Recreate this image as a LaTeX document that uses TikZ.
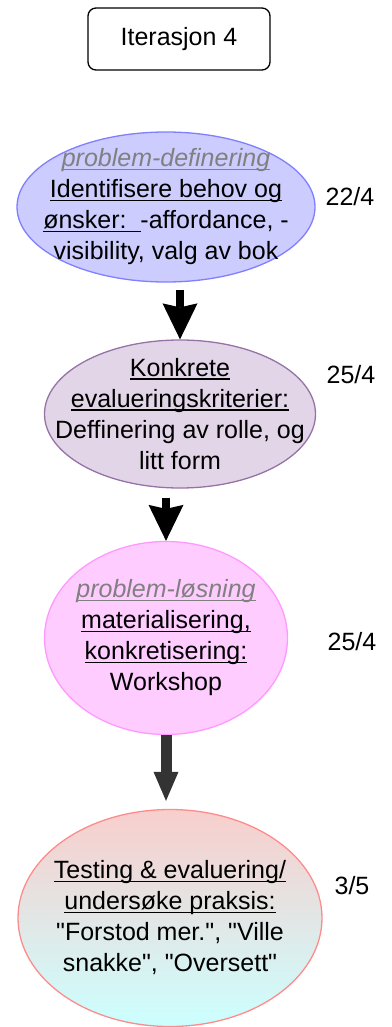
\documentclass[tikz,border=0pt]{standalone}
\usepackage{fontspec}
\setmainfont{Liberation Sans}[Ligatures=TeXOff]
\usetikzlibrary{shapes.geometric, arrows.meta, positioning, calc}
\tikzset{
	phase/.style={
		draw,
		ellipse,
		line width=1.3pt,
		inner sep=0pt
	},
	phasetext/.style={
		align=center,
		inner sep=0pt
	}
}
\definecolor{defblue}{HTML}{CCCCFF}
\definecolor{defbluedraw}{HTML}{7F7FFF}
\definecolor{evalfill}{HTML}{E1D5E7}
\definecolor{evaldraw}{HTML}{9673A6}
\definecolor{losfill}{HTML}{FFCCFF}
\definecolor{losdraw}{HTML}{FF99FF}
\definecolor{testtop}{HTML}{F8CECC}
\definecolor{testbottom}{HTML}{CCFFFF}
\definecolor{testdraw}{HTML}{FF8C8C}
\definecolor{labelgray}{HTML}{808080}
\definecolor{darkarrow}{HTML}{333333}
\newcommand{\undl}[1]{\setbox0=\hbox{#1}\rlap{\rule[-3.5pt]{\wd0}{1.5pt}}\box0}

\begin{document}
\begin{tikzpicture}[x=1pt, y=-1pt, font=\fontsize{25}{31}\selectfont]
	\tikzset{edge/.style={-{Stealth[length=36pt, width=35pt, inset=4pt, line width=0pt]}, line width=8pt}}
	\tikzset{date/.style={inner sep=0pt}}
	\useasboundingbox (0,0) rectangle (391,1027);
	
	\node(iter) at (179,39) [draw, rounded corners=8pt, line width=1.3pt, minimum width=182pt, minimum height=62pt] {Iterasjon 4};
	
	\node(defin) at (166,207) [phase, fill=defblue, draw=defbluedraw, minimum width=298pt, minimum height=150pt] {};
	\node(defin_txt) at (defin.center) [phasetext] {{\color{labelgray}\itshape\undl{problem-definering}}\\
		\undl{Identifisere behov og}\\
		\undl{ønsker:\ \ }-affordance, -\\
		visibility, valg av bok};
	\node(date1) at (350,197) [date] {22/4};
	
	\node(konkret) at (180,414) [phase, fill=evalfill, draw=evaldraw, minimum width=271pt, minimum height=148pt] {};
	\node(konkret_txt) at (konkret.center) [phasetext] {\undl{Konkrete}\\
		\undl{evalueringskriterier:}\\
		Deffinering av rolle, og\\
		litt form};
	\node(date2) at (351,375) [date] {25/4};
	
	\node(losning) at (166,638) [phase, fill=losfill, draw=losdraw, minimum width=243pt, minimum height=193pt] {};
	\node(losning_txt) at (losning.center) [phasetext] {{\color{labelgray}\itshape\undl{problem-løsning}}\\
		\undl{materialisering,}\\
		\undl{konkretisering:}\\
		Workshop};
	\node(date3) at (352,642) [date] {25/4};
	
	\node(testing) at (170,918) [phase, top color=testtop, bottom color=testbottom, draw=testdraw, minimum width=304pt, minimum height=217pt] {};
	\node(testing_txt) at (testing.center) [phasetext] {\undl{Testing \& evaluering/}\\
		\undl{undersøke praksis:}\\
		"Forstod mer.", "Ville\\
		snakke", "Oversett"};
	\node(date4) at (352,886) [date] {3/5};
	
	\draw[edge, shorten <=7pt] (defin.south -| konkret.north) -- (konkret.north);
	\draw[edge, shorten <=9pt] (konkret.south -| losning.north) -- (losning.north);
	\draw[-{Triangle[length=29pt, width=25pt, line width=0pt]}, line width=11pt, darkarrow, shorten >=8pt] (losning.south) -- (losning.south |- testing.north);
	
\end{tikzpicture}
\end{document}
